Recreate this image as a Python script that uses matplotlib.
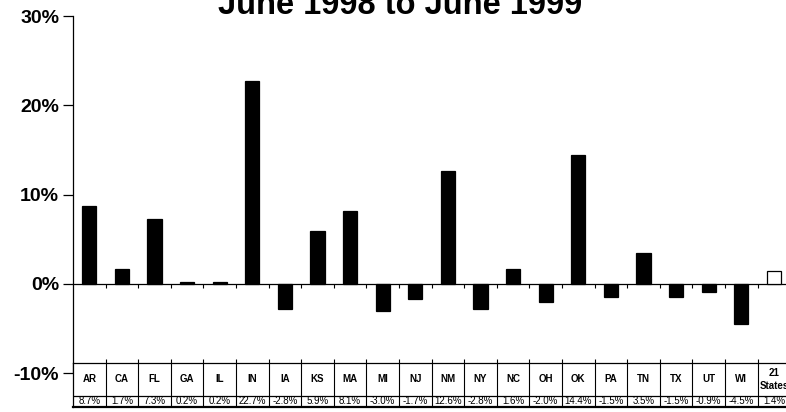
import matplotlib
matplotlib.use('Agg')
import matplotlib.pyplot as plt
import numpy as np

# Data
states = ['AR', 'CA', 'FL', 'GA', 'IL', 'IN', 'IA', 'KS', 'MA', 'MI', 'NJ',
          'NM', 'NY', 'NC', 'OH', 'OK', 'PA', 'TN', 'TX', 'UT', 'WI', '21\nStates']
changes = [8.7, 1.7, 7.3, 0.2, 0.2, 22.7, -2.8, 5.9, 8.1, -3.0, -1.7,
           12.6, -2.8, 1.6, -2.0, 14.4, -1.5, 3.5, -1.5, -0.9, -4.5, 1.4]
y_ticks = [-10, 0, 10, 20, 30]
title = 'June 1998 to June 1999'

plt.rcParams['font.family'] = ['Liberation Sans', 'DejaVu Sans']

W, H = 786, 412
fig = plt.figure(figsize=(W / 100, H / 100), dpi=100)

n = len(states)
cell = 32.6
left_px = 73
ax_w = n * cell
top_px, bot_px = 16, 373
ax = fig.add_axes([left_px / W, (H - bot_px) / H, ax_w / W, (bot_px - top_px) / H])

x = np.arange(n)
colors = ['black'] * (n - 1) + ['white']
ax.bar(x, changes, width=0.43, color=colors, edgecolor='black', linewidth=0.9, zorder=3)

ax.set_xlim(-0.5, n - 0.5)
ax.set_ylim(-10, 30)
ax.set_yticks(y_ticks)
ax.set_yticklabels([f'{v}%' for v in y_ticks], fontsize=14, fontweight='bold')
ax.tick_params(axis='y', length=7, width=0.9, pad=3)

for s in ['top', 'right']:
    ax.spines[s].set_visible(False)
ax.spines['left'].set_linewidth(0.9)
ax.spines['bottom'].set_position(('data', 0))
ax.spines['bottom'].set_linewidth(0.9)
bounds = np.arange(n + 1) - 0.5
ax.set_xticks(bounds[1:])
ax.set_xticklabels([])
ax.tick_params(axis='x', direction='out', length=3, width=0.8)

# Title (sits partly above the top edge, as in the original scan)
fig.text(400 / W, (H - 14) / H, title, ha='center', va='baseline',
         fontsize=23.5, fontweight='bold')

# Data table below the plot
tab_top, tab_mid, tab_bot = 363, 396, 407
tax = fig.add_axes([left_px / W, (H - tab_bot) / H, ax_w / W, (tab_bot - tab_top) / H])
tax.set_xlim(-0.5, n - 0.5)
tax.set_ylim(0, tab_bot - tab_top)
tax.set_facecolor('white')
tax.set_yticks([])
tax.xaxis.tick_top()
tax.set_xticks(bounds[1:-1])
tax.set_xticklabels([])
tax.tick_params(axis='x', direction='out', length=3, width=0.8)
for s in tax.spines.values():
    s.set_linewidth(0.9)
tax.spines['bottom'].set_linewidth(1.6)
mid = tab_bot - tab_mid
tax.axhline(mid, color='black', linewidth=0.9)
tax.vlines(bounds[1:-1], 0, tab_bot - tab_top, color='black', linewidth=0.8)
row1_y = mid + (tab_mid - tab_top) / 2
row2_y = mid / 2
for i, (st, v) in enumerate(zip(states, changes)):
    if '\n' in st:
        tax.text(i, row1_y, st, ha='center', va='center', fontsize=7,
                 fontweight='bold', linespacing=1.4)
    else:
        tax.text(i, row1_y, st, ha='center', va='center', fontsize=7, fontweight='bold')
    tax.text(i, row2_y, f'{v:.1f}%', ha='center', va='center', fontsize=7)

fig.savefig('out.png', dpi=100)
